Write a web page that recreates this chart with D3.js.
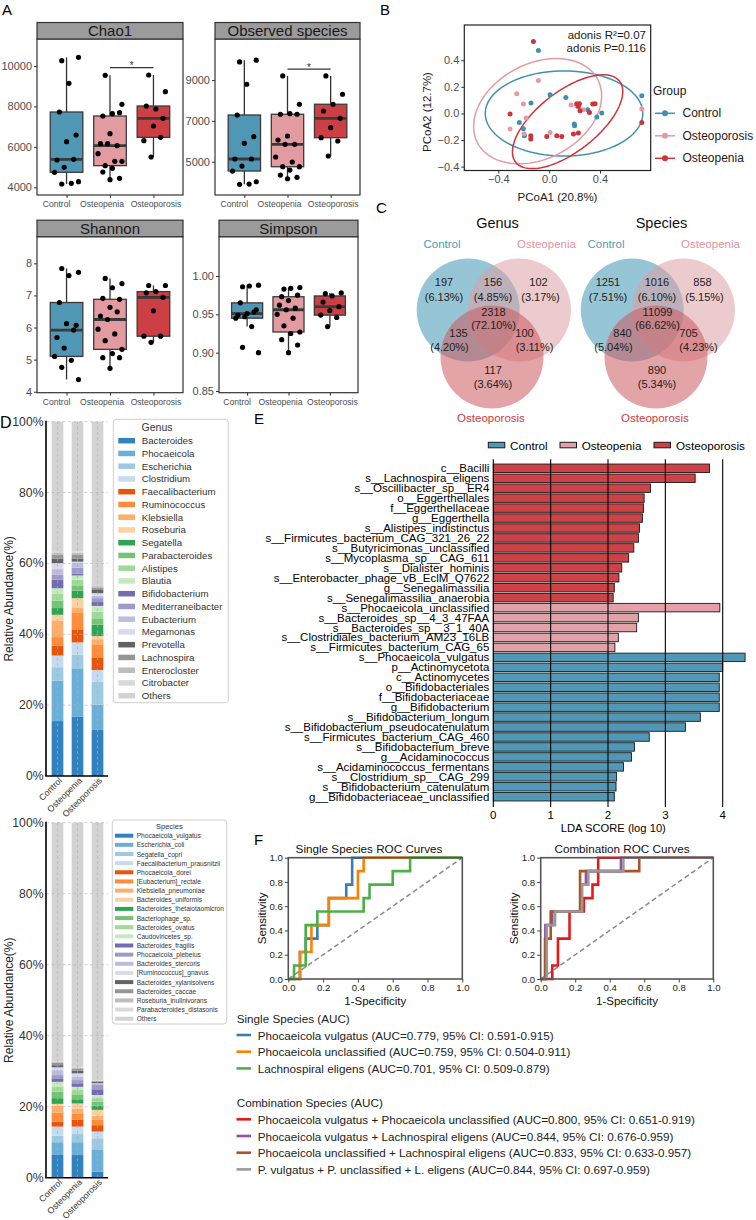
<!DOCTYPE html>
<html>
<head>
<meta charset="utf-8">
<script src="https://cdn.jsdelivr.net/npm/d3@7/dist/d3.min.js"></script>
<style>
html,body{margin:0;padding:0;background:#fff;}
svg{display:block;font-family:"Liberation Sans",Arial,Helvetica,sans-serif;}
</style>
</head>
<body>
<svg id="fig" width="756" height="1220" viewBox="0 0 756 1220"></svg>
<script>
// ================= DATA =================
const groups = ["Control", "Osteopenia", "Osteoporosis"];

// A: alpha diversity
const alphaMetrics = ["Chao1", "Observed species", "Shannon", "Simpson"];
const chao1Control = [10263, 10427, 9142, 7725, 6587, 6258, 5351, 5384, 4989, 4742, 4198, 4165, 4280];
const chao1Osteopenia = [9537, 8103, 7642, 7527, 7692, 6653, 6159, 6060, 6159, 5664, 5285, 5071, 5285, 4939, 4758, 4445, 4379];
const chao1Osteoporosis = [9554, 8730, 7873, 8021, 7411, 7032, 6307, 6472, 5500];
const observedControl = [9887, 9971, 8794, 7289, 6225, 5902, 5132, 5132, 4789, 4544, 3907, 3892, 4020];
const observedOsteopenia = [9201, 7814, 7353, 7324, 7324, 6260, 6064, 5853, 5853, 5230, 4985, 4755, 4755, 4593, 4348, 4235, 4167];
const observedOsteoporosis = [9201, 8304, 7814, 7485, 7127, 6667, 6176, 6015, 5279];
const shannonControl = [7.84, 7.72, 7.62, 6.78, 6.07, 6.12, 5.69, 5.92, 5.36, 5.10, 4.98, 4.76, 4.38];
const shannonOsteopenia = [7.53, 7.37, 7.24, 6.91, 6.88, 6.63, 6.36, 6.49, 6.25, 5.95, 5.80, 5.59, 5.32, 5.19, 5.06, 5.06, 4.73];
const shannonOsteoporosis = [7.31, 7.31, 7.12, 7.08, 6.94, 6.52, 5.73, 5.73, 5.54];
const simpsonControl = [0.986, 0.988, 0.987, 0.965, 0.956, 0.951, 0.949, 0.953, 0.947, 0.945, 0.934, 0.907, 0.900];
const simpsonOsteopenia = [0.983, 0.985, 0.984, 0.973, 0.975, 0.968, 0.962, 0.958, 0.956, 0.950, 0.945, 0.935, 0.927, 0.925, 0.917, 0.910, 0.900];
const simpsonOsteoporosis = [0.977, 0.978, 0.974, 0.966, 0.960, 0.955, 0.949, 0.946, 0.934];
const chao1Ticks = [4000, 6000, 8000, 10000];
const observedTicks = [5000, 7000, 9000];
const shannonTicks = [4, 5, 6, 7, 8];
const simpsonTicks = [0.85, 0.90, 0.95, 1.00];

// B: PCoA
const pcoaGroups = ["Control", "Osteoporosis", "Osteopenia"];
const pcoaControlX = [-0.085, -0.143, 0.007, 0.131, -0.235, -0.203, -0.195, 0.198, 0.200, 0.304, 0.375, 0.414, 0.729];
const pcoaControlY = [0.474, 0.078, 0.141, 0.120, -0.068, -0.115, -0.168, -0.080, -0.092, 0.028, -0.027, 0.003, 0.133];
const pcoaOsteoporosisX = [-0.085, -0.255, -0.203, -0.182, -0.308, -0.198, 0.007, 0.172, 0.217, 0.269, 0.729];
const pcoaOsteoporosisY = [0.248, 0.148, 0.071, -0.035, -0.117, -0.153, -0.143, 0.063, 0.058, 0.028, 0.033];
const pcoaOsteopeniaX = [-0.124, -0.308, -0.145, -0.145, -0.019, 0.060, 0.099, 0.191, 0.230, 0.217, 0.238, 0.230, 0.243, 0.317, 0.343, 0.361, 0.729];
const pcoaOsteopeniaY = [0.541, -0.005, -0.192, -0.168, -0.173, -0.168, -0.173, -0.155, -0.147, 0.073, 0.073, 0.053, 0.020, 0.008, 0.071, 0.073, -0.068];
const ellipseCX = [0.117, -0.091, 0.145];
const ellipseCY = [0.000, 0.017, -0.062];
const ellipseA = [0.62, 0.53, 0.51];
const ellipseB = [0.32, 0.36, 0.23];
const ellipseAngle = [0, 25, 36];
const pcoaXTicks = [-0.4, 0.0, 0.4];
const pcoaYTicks = [-0.4, -0.2, 0.0, 0.2, 0.4];
const adonisText = ["adonis R\u00b2=0.07", "adonis P=0.116"];

// C: Venn (regions: C only, C∩Op, Op only, all, C∩Os, Op∩Os, Os only)
const vennSets = ["Control", "Osteopenia", "Osteoporosis"];
const genusCounts = [197, 156, 102, 2318, 135, 100, 117];
const genusPct = ["6.13%", "4.85%", "3.17%", "72.10%", "4.20%", "3.11%", "3.64%"];
const speciesCounts = [1251, 1016, 858, 11099, 840, 705, 890];
const speciesPct = ["7.51%", "6.10%", "5.15%", "66.62%", "5.04%", "4.23%", "5.34%"];

// D: relative abundance (%)
const genusNames = ["Bacteroides","Phocaeicola","Escherichia","Clostridium","Faecalibacterium","Ruminococcus","Klebsiella","Roseburia","Segatella","Parabacteroides","Alistipes","Blautia","Bifidobacterium","Mediterraneibacter","Eubacterium","Megamonas","Prevotella","Lachnospira","Enterocloster","Citrobacter","Others"];
const genusControl = [15.5, 11.4, 3.8, 3.3, 2.8, 2.4, 4.7, 1.6, 1.9, 2.1, 1.9, 1.6, 2.4, 1.4, 1.6, 1.7, 1.2, 1.2, 0.6, 0.4, 36.5];
const genusOsteopenia = [16.8, 13.6, 3.8, 3.5, 3.7, 4.6, 1.4, 2.8, 2.1, 1.5, 1.6, 1.2, 0.5, 1.7, 1.3, 0.4, 0.8, 1.1, 0.6, 0.4, 36.6];
const genusOsteoporosis = [13.0, 7.1, 6.5, 3.3, 3.6, 3.5, 1.6, 0.9, 3.2, 1.8, 1.9, 1.6, 1.1, 1.1, 0.7, 0.7, 0.9, 0.7, 0.4, 0.3, 46.1];
const speciesNames = ["Phocaeicola_vulgatus","Escherichia_coli","Segatella_copri","Faecalibacterium_prausnitzii","Phocaeicola_dorei","[Eubacterium]_rectale","Klebsiella_pneumoniae","Bacteroides_uniformis","Bacteroides_thetaiotaomicron","Bacteriophage_sp.","Bacteroides_ovatus","Caudoviricetes_sp.","Bacteroides_fragilis","Phocaeicola_plebeius","Bacteroides_stercoris","[Ruminococcus]_gnavus","Bacteroides_xylanisolvens","Bacteroides_caccae","Roseburia_inulinivorans","Parabacteroides_distasonis","Others"];
const speciesControl = [6.4, 3.6, 1.8, 2.6, 1.4, 2.5, 2.0, 0.5, 1.6, 1.8, 1.4, 1.4, 0.8, 1.1, 1.4, 0.8, 0.6, 0.7, 0.3, 0.2, 67.1];
const speciesOsteopenia = [6.4, 3.6, 2.3, 2.1, 2.0, 1.7, 1.4, 1.4, 1.2, 1.4, 1.2, 0.9, 1.0, 0.9, 1.0, 0.9, 0.7, 0.7, 0.1, 0.2, 68.9];
const speciesOsteoporosis = [1.7, 6.1, 3.3, 1.9, 1.8, 1.5, 1.2, 1.6, 1.2, 1.1, 1.0, 0.9, 1.6, 1.2, 0.3, 0.2, 0.4, 0.2, 0.1, 0.1, 72.6];
const abundanceTicks = [0, 20, 40, 60, 80, 100];

// E: LEfSe
const ldaFeatures = ["c__Bacilli","s__Lachnospira_eligens","s__Oscillibacter_sp__ER4","o__Eggerthellales","f__Eggerthellaceae","g__Eggerthella","s__Alistipes_indistinctus","s__Firmicutes_bacterium_CAG_321_26_22","s__Butyricimonas_unclassified","s__Mycoplasma_sp__CAG_611","s__Dialister_hominis","s__Enterobacter_phage_vB_EclM_Q7622","g__Senegalimassilia","s__Senegalimassilia_anaerobia","s__Phocaeicola_unclassified","s__Bacteroides_sp__4_3_47FAA","s__Bacteroides_sp__3_1_40A","s__Clostridiales_bacterium_AM23_16LB","s__Firmicutes_bacterium_CAG_65","s__Phocaeicola_vulgatus","p__Actinomycetota","c__Actinomycetes","o__Bifidobacteriales","f__Bifidobacteriaceae","g__Bifidobacterium","s__Bifidobacterium_longum","s__Bifidobacterium_pseudocatenulatum","s__Firmicutes_bacterium_CAG_460","s__Bifidobacterium_breve","g__Acidaminococcus","s__Acidaminococcus_fermentans","s__Clostridium_sp__CAG_299","s__Bifidobacterium_catenulatum","g__Bifidobacteriaceae_unclassified"];
const ldaScores = [3.77, 3.52, 2.74, 2.63, 2.62, 2.60, 2.55, 2.53, 2.45, 2.36, 2.24, 2.19, 2.11, 2.09, 3.95, 2.53, 2.50, 2.18, 2.12, 4.39, 4.00, 3.94, 3.94, 3.94, 3.94, 3.61, 3.35, 2.72, 2.46, 2.41, 2.27, 2.15, 2.14, 2.11];
const ldaGroups = ["Osteoporosis","Osteoporosis","Osteoporosis","Osteoporosis","Osteoporosis","Osteoporosis","Osteoporosis","Osteoporosis","Osteoporosis","Osteoporosis","Osteoporosis","Osteoporosis","Osteoporosis","Osteoporosis","Osteopenia","Osteopenia","Osteopenia","Osteopenia","Osteopenia","Control","Control","Control","Control","Control","Control","Control","Control","Control","Control","Control","Control","Control","Control","Control"];
const ldaTicks = [0, 1, 2, 3, 4];

// F: ROC curves
const rocTicks = [0, 0.2, 0.4, 0.6, 0.8, 1.0];
const singleLabels = ["Phocaeicola vulgatus (AUC=0.779, 95% CI: 0.591-0.915)", "Phocaeicola unclassified (AUC=0.759, 95% CI: 0.504-0.911)", "Lachnospiral eligens (AUC=0.701, 95% CI: 0.509-0.879)"];
const singleFpr = [
  [0, 0.067, 0.067, 0.1, 0.1, 0.167, 0.167, 0.233, 0.233, 0.333, 0.333, 0.367, 0.367, 1],
  [0, 0.067, 0.067, 0.133, 0.133, 0.233, 0.233, 0.4, 0.4, 0.433, 0.433, 1],
  [0, 0.033, 0.033, 0.1, 0.1, 0.167, 0.167, 0.433, 0.433, 0.467, 0.467, 0.6, 0.6, 0.7, 0.7, 1]
];
const singleTpr = [
  [0, 0, 0.222, 0.222, 0.333, 0.333, 0.444, 0.444, 0.667, 0.667, 0.778, 0.778, 1, 1],
  [0, 0, 0.222, 0.222, 0.444, 0.444, 0.667, 0.667, 0.889, 0.889, 1, 1],
  [0, 0, 0.111, 0.111, 0.444, 0.444, 0.556, 0.556, 0.667, 0.667, 0.778, 0.778, 0.889, 0.889, 1, 1]
];
const comboLabels = ["Phocaeicola vulgatus + Phocaeicola unclassified (AUC=0.800, 95% CI: 0.651-0.919)", "Phocaeicola vulgatus + Lachnospiral eligens (AUC=0.844, 95% CI: 0.676-0.959)", "Phocaeicola unclassified + Lachnospiral eligens (AUC=0.833, 95% CI: 0.633-0.957)", "P. vulgatus + P. unclassified + L. eligens (AUC=0.844, 95% CI: 0.697-0.959)"];
const comboFpr = [
  [0, 0.067, 0.067, 0.1, 0.1, 0.167, 0.167, 0.25, 0.25, 0.3, 0.3, 0.333, 0.333, 1],
  [0, 0.027, 0.027, 0.067, 0.067, 0.233, 0.233, 0.262, 0.262, 0.465, 0.465, 1],
  [0, 0.025, 0.025, 0.058, 0.058, 0.228, 0.228, 0.571, 0.571, 1],
  [0, 0.035, 0.035, 0.083, 0.083, 0.24, 0.24, 0.276, 0.276, 0.479, 0.479, 1]
];
const comboTpr = [
  [0, 0, 0.111, 0.111, 0.333, 0.333, 0.556, 0.556, 0.667, 0.667, 0.778, 0.778, 1, 1],
  [0, 0, 0.444, 0.444, 0.556, 0.556, 0.778, 0.778, 0.889, 0.889, 1, 1],
  [0, 0, 0.333, 0.333, 0.556, 0.556, 0.889, 0.889, 1, 1],
  [0, 0, 0.444, 0.444, 0.556, 0.556, 0.778, 0.778, 0.889, 0.889, 1, 1]
];

// ================= STYLE =================
const FONT = '"Liberation Sans", Arial, Helvetica, sans-serif';
const boxColors = ["#5097b5", "#e29ca1", "#cc3f44"];
const pcoaColors = ["#3f91af", "#e39ba1", "#cc3439"];
const vennFill = ["#3f98b5", "#dca0a6", "#cc5a5f"];
const vennText = ["#4c9cba", "#e0939a", "#d0383d"];
const ldaColors = {Control: "#5098b6", Osteopenia: "#e2a1a6", Osteoporosis: "#cc4247"};
const tab20c = ["#3182bd","#6baed6","#9ecae1","#c6dbef","#e6550d","#fd8d3c","#fdae6b","#fdd0a2","#31a354","#74c476","#a1d99b","#c7e9c0","#756bb1","#9e9ac8","#bcbddc","#dadaeb","#636363","#969696","#bdbdbd","#d9d9d9","#d3d3d3"];
const singleColors = ["#377eb8", "#ff7f00", "#4daf4a"];
const comboColors = ["#e41a1c", "#984ea3", "#a65628", "#999999"];
const boxLabelShift = [-10, -8, 2.5];

const svg = d3.select("#fig");

function txt(parent, x, y, s, size, o = {}) {
  const t = parent.append("text").attr("x", x).attr("y", y).attr("font-size", size)
    .attr("fill", o.fill || "#000").text(s);
  if (o.anchor) t.attr("text-anchor", o.anchor);
  if (o.baseline) t.attr("dominant-baseline", o.baseline);
  if (o.rotate !== undefined) t.attr("transform", `rotate(${o.rotate},${x},${y})`);
  return t;
}
function styleAxis(g, size, fill, tickColor) {
  g.attr("font-family", FONT).attr("font-size", size);
  g.select(".domain").remove();
  g.selectAll(".tick line").attr("stroke", tickColor || "#333");
  g.selectAll(".tick text").attr("fill", fill);
}

// panel letters
txt(svg, 2, 15, "A", 15);
txt(svg, 380, 15, "B", 15);
txt(svg, 376, 213, "C", 15);
txt(svg, 0, 428, "D", 16);
txt(svg, 254, 424, "E", 15);
txt(svg, 254, 845, "F", 15);

// ================= A =================
const jit = i => ((((i * 7) + 3) % 11) / 10 - 0.5) * 0.55;
function boxPanel(p) {
  const g = svg.append("g");
  const x = d3.scalePoint().domain(groups).range([p.x0, p.x1]).padding(0.68);
  const y = d3.scaleLinear().domain(p.domain).range([p.y1, p.y0]);
  const step = x.step(), bw = step * 0.75;
  g.append("rect").attr("x", p.x0).attr("y", p.y0).attr("width", p.x1 - p.x0).attr("height", p.y1 - p.y0).attr("fill", "#fff");
  p.series.forEach((vals, gi) => {
    const s = vals.slice().sort(d3.ascending);
    const q1 = d3.quantileSorted(s, 0.25), med = d3.quantileSorted(s, 0.5), q3 = d3.quantileSorted(s, 0.75);
    const iqr = q3 - q1;
    const lo = d3.min(s.filter(v => v >= q1 - 1.5 * iqr)), hi = d3.max(s.filter(v => v <= q3 + 1.5 * iqr));
    const cx = x(groups[gi]);
    g.append("line").attr("x1", cx).attr("x2", cx).attr("y1", y(lo)).attr("y2", y(hi)).attr("stroke", "#333").attr("stroke-width", 1.3);
    g.append("rect").attr("x", cx - bw / 2).attr("width", bw).attr("y", y(q3)).attr("height", y(q1) - y(q3))
      .attr("fill", boxColors[gi]).attr("stroke", "#3a3a3a").attr("stroke-width", 1.3);
    g.append("line").attr("x1", cx - bw / 2).attr("x2", cx + bw / 2).attr("y1", y(med)).attr("y2", y(med)).attr("stroke", "#3a3a3a").attr("stroke-width", 2.8);
    vals.forEach((v, i) => g.append("circle").attr("cx", cx + jit(i) * step).attr("cy", y(v)).attr("r", 2.6).attr("fill", "#000"));
  });
  g.append("rect").attr("x", p.x0).attr("y", p.y0).attr("width", p.x1 - p.x0).attr("height", p.y1 - p.y0)
    .attr("fill", "none").attr("stroke", "#333").attr("stroke-width", 1.2);
  g.append("rect").attr("x", p.x0).attr("y", p.y0 - 16.5).attr("width", p.x1 - p.x0).attr("height", 16.5)
    .attr("fill", "#9b9b9b").attr("stroke", "#333").attr("stroke-width", 1.2);
  txt(g, (p.x0 + p.x1) / 2, p.y0 - 3.2, p.title, 15, {anchor: "middle", fill: "#1a1a1a"});
  const ya = g.append("g").attr("transform", `translate(${p.x0},0)`).call(d3.axisLeft(y).tickValues(p.ticks).tickSize(3).tickPadding(2).tickFormat(p.fmt));
  styleAxis(ya, 11, "#4d4d4d");
  const xa = g.append("g").attr("transform", `translate(0,${p.y1})`).call(d3.axisBottom(x).tickSize(3).tickFormat(""));
  styleAxis(xa, 9, "#4d4d4d");
  groups.forEach((gn, gi) => txt(g, x(gn) + boxLabelShift[gi], p.y1 + 12, gn, 8.6, {anchor: "middle", fill: "#4d4d4d"}));
  if (p.sig !== undefined) {
    const sy = y(p.sig), xa1 = x(groups[1]), xa2 = x(groups[2]);
    g.append("line").attr("x1", xa1).attr("x2", xa2).attr("y1", sy).attr("y2", sy).attr("stroke", "#333").attr("stroke-width", 1.2);
    txt(g, (xa1 + xa2) / 2, sy + 1.5, "*", 10, {anchor: "middle", fill: "#333"});
  }
}
boxPanel({title: alphaMetrics[0], x0: 37, x1: 183, y0: 39, y1: 195, domain: [3620, 11335], ticks: chao1Ticks, fmt: d3.format("d"), series: [chao1Control, chao1Osteopenia, chao1Osteoporosis], sig: 9916});
boxPanel({title: alphaMetrics[1], x0: 215, x1: 360, y0: 39, y1: 195, domain: [3370, 11010], ticks: observedTicks, fmt: d3.format("d"), series: [observedControl, observedOsteopenia, observedOsteoporosis], sig: 9539});
boxPanel({title: alphaMetrics[2], x0: 37, x1: 183, y0: 236.7, y1: 392.7, domain: [3.97, 8.83], ticks: shannonTicks, fmt: d3.format("d"), series: [shannonControl, shannonOsteopenia, shannonOsteoporosis]});
boxPanel({title: alphaMetrics[3], x0: 219, x1: 358, y0: 236.7, y1: 392.7, domain: [0.8478, 1.0513], ticks: simpsonTicks, fmt: d3.format(".2f"), series: [simpsonControl, simpsonOsteopenia, simpsonOsteoporosis]});

// ================= B =================
(function () {
  const g = svg.append("g");
  const x = d3.scaleLinear().domain([-0.668, 0.799]).range([464.3, 650.7]);
  const y = d3.scaleLinear().domain([-0.429, 0.665]).range([170.5, 25]);
  g.append("rect").attr("x", 464.3).attr("y", 25).attr("width", 650.7 - 464.3).attr("height", 145.5).attr("fill", "#fff");
  const line = d3.line().x(d => x(d[0])).y(d => y(d[1]));
  ellipseCX.forEach((cx, k) => {
    const th = ellipseAngle[k] * Math.PI / 180;
    const pts = d3.range(0, 101).map(j => {
      const t = j / 100 * 2 * Math.PI;
      const ex = ellipseA[k] * Math.cos(t), ey = ellipseB[k] * Math.sin(t);
      return [cx + ex * Math.cos(th) - ey * Math.sin(th), ellipseCY[k] + ex * Math.sin(th) + ey * Math.cos(th)];
    });
    g.append("path").attr("d", line(pts)).attr("fill", "none").attr("stroke", pcoaColors[k]).attr("stroke-width", 1.5);
  });
  const sets = [[pcoaControlX, pcoaControlY], [pcoaOsteoporosisX, pcoaOsteoporosisY], [pcoaOsteopeniaX, pcoaOsteopeniaY]];
  sets.forEach((s, k) => s[0].forEach((v, i) => g.append("circle").attr("cx", x(v)).attr("cy", y(s[1][i])).attr("r", 2.5).attr("fill", pcoaColors[k])));
  g.append("rect").attr("x", 464.3).attr("y", 25).attr("width", 650.7 - 464.3).attr("height", 145.5).attr("fill", "none").attr("stroke", "#222").attr("stroke-width", 1.2);
  const xa = g.append("g").attr("transform", "translate(0,170.5)").call(d3.axisBottom(x).tickValues(pcoaXTicks).tickSize(3).tickPadding(2).tickFormat(d3.format(".1f")));
  styleAxis(xa, 11, "#4d4d4d");
  const ya = g.append("g").attr("transform", "translate(464.3,0)").call(d3.axisLeft(y).tickValues(pcoaYTicks).tickSize(3).tickPadding(2).tickFormat(d3.format(".1f")));
  styleAxis(ya, 11, "#4d4d4d");
  txt(g, 557.5, 201, "PCoA1 (20.8%)", 11.5, {anchor: "middle", fill: "#1a1a1a"});
  txt(g, 431, 112, "PCoA2 (12.7%)", 11.5, {anchor: "middle", fill: "#1a1a1a", rotate: -90});
  txt(g, 646, 38.5, adonisText[0], 11.5, {anchor: "end", fill: "#1a1a1a"});
  txt(g, 646, 52, adonisText[1], 11.5, {anchor: "end", fill: "#1a1a1a"});
  txt(g, 653, 94.5, "Group", 12, {fill: "#1a1a1a"});
  pcoaGroups.forEach((name, k) => {
    const ly = 113.3 + k * 22.5;
    g.append("line").attr("x1", 655).attr("x2", 675).attr("y1", ly).attr("y2", ly).attr("stroke", pcoaColors[k]).attr("stroke-width", 1.5);
    g.append("circle").attr("cx", 665).attr("cy", ly).attr("r", 3).attr("fill", pcoaColors[k]);
    txt(g, 682.5, ly, name, 12, {fill: "#1a1a1a", baseline: "central"});
  });
})();

// ================= C =================
function venn(cx, cy, title, counts, pcts) {
  const g = svg.append("g");
  const r = 51.5;
  const centers = [[cx - 25.3, cy - 15.7], [cx + 26, cy - 15.7], [cx - 1.5, cy + 31.3]];
  centers.forEach((c, k) => g.append("circle").attr("cx", c[0]).attr("cy", c[1]).attr("r", r)
    .attr("fill", vennFill[k]).attr("fill-opacity", 0.55));
  txt(g, cx + 4, cy - 102.4, title, 14.5, {anchor: "middle", baseline: "central", fill: "#111"});
  const labelPos = [[cx - 51.5, cy - 81.7], [cx + 53, cy - 81.7], [cx - 2.5, cy + 92.6]];
  vennSets.forEach((s, k) => txt(g, labelPos[k][0], labelPos[k][1], s, 11.5, {anchor: "middle", baseline: "central", fill: vennText[k]}));
  const cpos = [[-49.5, -43.4], [-0.5, -43.4], [45, -43.4], [0, -14], [-35, 7], [31, 7], [-0.5, 44.3]];
  const ppos = [[-49.5, -29], [-0.5, -29], [47, -29], [0, -0.7], [-44, 21], [41, 21], [-0.5, 58.3]];
  counts.forEach((c, i) => {
    txt(g, cx + cpos[i][0], cy + cpos[i][1], c, 11, {anchor: "middle", baseline: "central", fill: "#222"});
    txt(g, cx + ppos[i][0], cy + ppos[i][1], "(" + pcts[i] + ")", 11, {anchor: "middle", baseline: "central", fill: "#222"});
  });
}
venn(493.5, 325.7, "Genus", genusCounts, genusPct);
venn(657.5, 325.7, "Species", speciesCounts, speciesPct);

// ================= D =================
function stackPanel(p) {
  const g = svg.append("g");
  const x = d3.scaleBand().domain(groups).range([47.5, 107.5]).paddingInner(0.415).paddingOuter(0.2075);
  const y = d3.scaleLinear().domain([0, 100]).range([p.yb, p.yt]);
  const rows = groups.map((gn, gi) => { const r = {group: gn}; p.names.forEach((n, k) => r[n] = p.values[gi][k]); return r; });
  const stacked = d3.stack().keys(p.names)(rows);
  stacked.forEach((layer, k) => {
    layer.forEach(d => g.append("rect").attr("x", x(d.data.group)).attr("width", x.bandwidth())
      .attr("y", y(d[1])).attr("height", Math.max(0, y(d[0]) - y(d[1]))).attr("fill", tab20c[k]));
  });
  abundanceTicks.slice(1).forEach(t => g.append("line").attr("x1", 46).attr("x2", 108).attr("y1", y(t)).attr("y2", y(t))
    .attr("stroke", "#b5b5b5").attr("stroke-width", 0.8).attr("stroke-dasharray", "3,2.5").attr("opacity", 0.8));
  groups.forEach(gn => {
    const cx = x(gn) + x.bandwidth() / 2;
    g.append("line").attr("x1", cx).attr("x2", cx).attr("y1", y(0)).attr("y2", y(100))
      .attr("stroke", "#b0b0b0").attr("stroke-width", 0.8).attr("stroke-dasharray", "3,2.5").attr("opacity", 0.8);
  });
  g.append("line").attr("x1", 46).attr("x2", 46).attr("y1", y(100) - 1).attr("y2", y(0)).attr("stroke", "#000").attr("stroke-width", 1.6);
  g.append("line").attr("x1", 45.2).attr("x2", 108).attr("y1", y(0)).attr("y2", y(0)).attr("stroke", "#000").attr("stroke-width", 1.6);
  abundanceTicks.forEach(t => txt(g, 43.5, y(t), t + "%", 12.2, {anchor: "end", baseline: "central", fill: "#333"}));
  groups.forEach(gn => {
    const cx = x(gn) + x.bandwidth() / 2 + 3, ty = y(0) + 3;
    txt(g, cx, ty, gn, 8.8, {anchor: "end", baseline: "central", fill: "#333", rotate: -45});
  });
  txt(g, 13, (y(0) + y(100)) / 2, "Relative Abundance(%)", 12, {anchor: "middle", fill: "#222", rotate: -90});
  const L = p.legend;
  g.append("rect").attr("x", L.x0).attr("y", L.y0).attr("width", L.x1 - L.x0).attr("height", L.y1 - L.y0)
    .attr("rx", 3).attr("fill", "#fff").attr("fill-opacity", 0.85).attr("stroke", "#cfcfcf").attr("stroke-width", 1);
  txt(g, L.titleX, L.titleY, L.title, L.titleSize, {anchor: "middle", fill: "#333"});
  p.names.forEach((n, k) => {
    const ly = L.first + k * L.step;
    g.append("rect").attr("x", L.sx).attr("y", ly - L.sh / 2).attr("width", L.sw).attr("height", L.sh).attr("fill", tab20c[k]);
    txt(g, L.tx, ly, n, L.size, {baseline: "central", fill: "#333"});
  });
}
stackPanel({yb: 776, yt: 421.7, names: genusNames, values: [genusControl, genusOsteopenia, genusOsteoporosis],
  legend: {x0: 113.3, x1: 228.3, y0: 419.3, y1: 702.7, title: "Genus", titleX: 157, titleY: 431, titleSize: 10.5,
    first: 440.7, step: 12.75, sx: 118.3, sw: 16.7, sh: 5.5, tx: 141.7, size: 9.7}});
stackPanel({yb: 1177.7, yt: 822.7, names: speciesNames, values: [speciesControl, speciesOsteopenia, speciesOsteoporosis],
  legend: {x0: 112.3, x1: 226.7, y0: 820, y1: 1024, title: "Species", titleX: 169.3, titleY: 829, titleSize: 7.5,
    first: 835.7, step: 9.15, sx: 115, sw: 18.3, sh: 4, tx: 136.7, size: 6.6}});

// ================= E =================
(function () {
  const g = svg.append("g");
  const x = d3.scaleLinear().domain([0, 4]).range([493.3, 722.7]);
  const y = d3.scaleBand().domain(ldaFeatures).range([463.3, 801.7]).paddingInner(0.15).paddingOuter(0.075);
  ldaFeatures.forEach((f, i) => {
    g.append("rect").attr("x", x(0)).attr("y", y(f)).attr("width", x(ldaScores[i]) - x(0)).attr("height", y.bandwidth())
      .attr("fill", ldaColors[ldaGroups[i]]).attr("stroke", "#1a1a1a").attr("stroke-width", 0.9);
    txt(g, 489.3, y(f) + y.bandwidth() / 2, f, 11.5, {anchor: "end", baseline: "central", fill: "#000"});
  });
  ldaTicks.forEach(t => {
    g.append("line").attr("x1", x(t)).attr("x2", x(t)).attr("y1", 459.3).attr("y2", 807).attr("stroke", "#000").attr("stroke-width", 1.1);
    txt(g, x(t), 815, t, 11.5, {anchor: "middle", baseline: "central", fill: "#000"});
  });
  txt(g, 613.3, 827.5, "LDA SCORE (log 10)", 11.2, {anchor: "middle", baseline: "central", fill: "#000"});
  const leg = [["Control", 488.3, 510], ["Osteopenia", 560, 581.7], ["Osteoporosis", 654, 676]];
  leg.forEach(l => {
    g.append("rect").attr("x", l[1]).attr("y", 442.3).attr("width", 16.5).attr("height", 5.5).attr("fill", ldaColors[l[0]]).attr("stroke", "#1a1a1a").attr("stroke-width", 1);
    txt(g, l[2], 445, l[0], 11.7, {baseline: "central", fill: "#000"});
  });
})();

// ================= F =================
function rocPanel(p) {
  const g = svg.append("g");
  const x = d3.scaleLinear().domain([0, 1]).range([p.x0, p.x1]);
  const y = d3.scaleLinear().domain([0, 1]).range([p.y1, p.y0]);
  g.append("line").attr("x1", x(0)).attr("y1", y(0)).attr("x2", x(1)).attr("y2", y(1))
    .attr("stroke", "#8a8a8a").attr("stroke-width", 1.5).attr("stroke-dasharray", "5,3");
  const line = d3.line().x(d => x(d[0])).y(d => y(d[1]));
  p.fpr.forEach((f, k) => {
    const pts = f.map((v, i) => [v, p.tpr[k][i]]);
    g.append("path").attr("d", line(pts)).attr("fill", "none").attr("stroke", p.colors[k]).attr("stroke-width", 2.6).attr("stroke-linejoin", "miter");
  });
  g.append("rect").attr("x", p.x0).attr("y", p.y0).attr("width", p.x1 - p.x0).attr("height", p.y1 - p.y0)
    .attr("fill", "none").attr("stroke", "#555").attr("stroke-width", 1.6);
  const xa = g.append("g").attr("transform", `translate(0,${p.y1})`).call(d3.axisBottom(x).tickValues(rocTicks).tickSize(3.5).tickPadding(2).tickFormat(d3.format(".1f")));
  styleAxis(xa, 9.6, "#222", "#444");
  const ya = g.append("g").attr("transform", `translate(${p.x0},0)`).call(d3.axisLeft(y).tickValues(rocTicks).tickSize(3.5).tickPadding(2).tickFormat(d3.format(".1f")));
  styleAxis(ya, 9.6, "#222", "#444");
  txt(g, p.titleX, 848.5, p.title, 11.7, {anchor: "middle", baseline: "central", fill: "#111"});
  txt(g, (p.x0 + p.x1) / 2, 1000.5, "1-Specificity", 11.5, {anchor: "middle", baseline: "central", fill: "#111"});
  txt(g, p.x0 - 26.6, (p.y0 + p.y1) / 2, "Sensitivity", 11.5, {anchor: "middle", baseline: "central", fill: "#111", rotate: -90});
}
rocPanel({x0: 288.3, x1: 462.3, y0: 857.7, y1: 979, title: "Single Species ROC Curves", titleX: 369, fpr: singleFpr, tpr: singleTpr, colors: singleColors});
rocPanel({x0: 540.7, x1: 713.3, y0: 857.7, y1: 979, title: "Combination ROC Curves", titleX: 622, fpr: comboFpr, tpr: comboTpr, colors: comboColors});

(function () {
  const g = svg.append("g");
  txt(g, 236.7, 1018.3, "Single Species (AUC)", 11.7, {baseline: "central", fill: "#222"});
  singleLabels.forEach((s, i) => {
    const ly = 1035 + i * 16.7;
    g.append("line").attr("x1", 236.5).attr("x2", 251).attr("y1", ly).attr("y2", ly).attr("stroke", singleColors[i]).attr("stroke-width", 2.6);
    txt(g, 257.7, ly, s, 11.7, {baseline: "central", fill: "#222"});
  });
  txt(g, 236.7, 1102.3, "Combination Species (AUC)", 11.7, {baseline: "central", fill: "#222"});
  comboLabels.forEach((s, i) => {
    const ly = 1119.3 + i * 16.7;
    g.append("line").attr("x1", 236.5).attr("x2", 251).attr("y1", ly).attr("y2", ly).attr("stroke", comboColors[i]).attr("stroke-width", 2.6);
    txt(g, 257.7, ly, s, 11.7, {baseline: "central", fill: "#222"});
  });
})();
</script>
</body>
</html>
